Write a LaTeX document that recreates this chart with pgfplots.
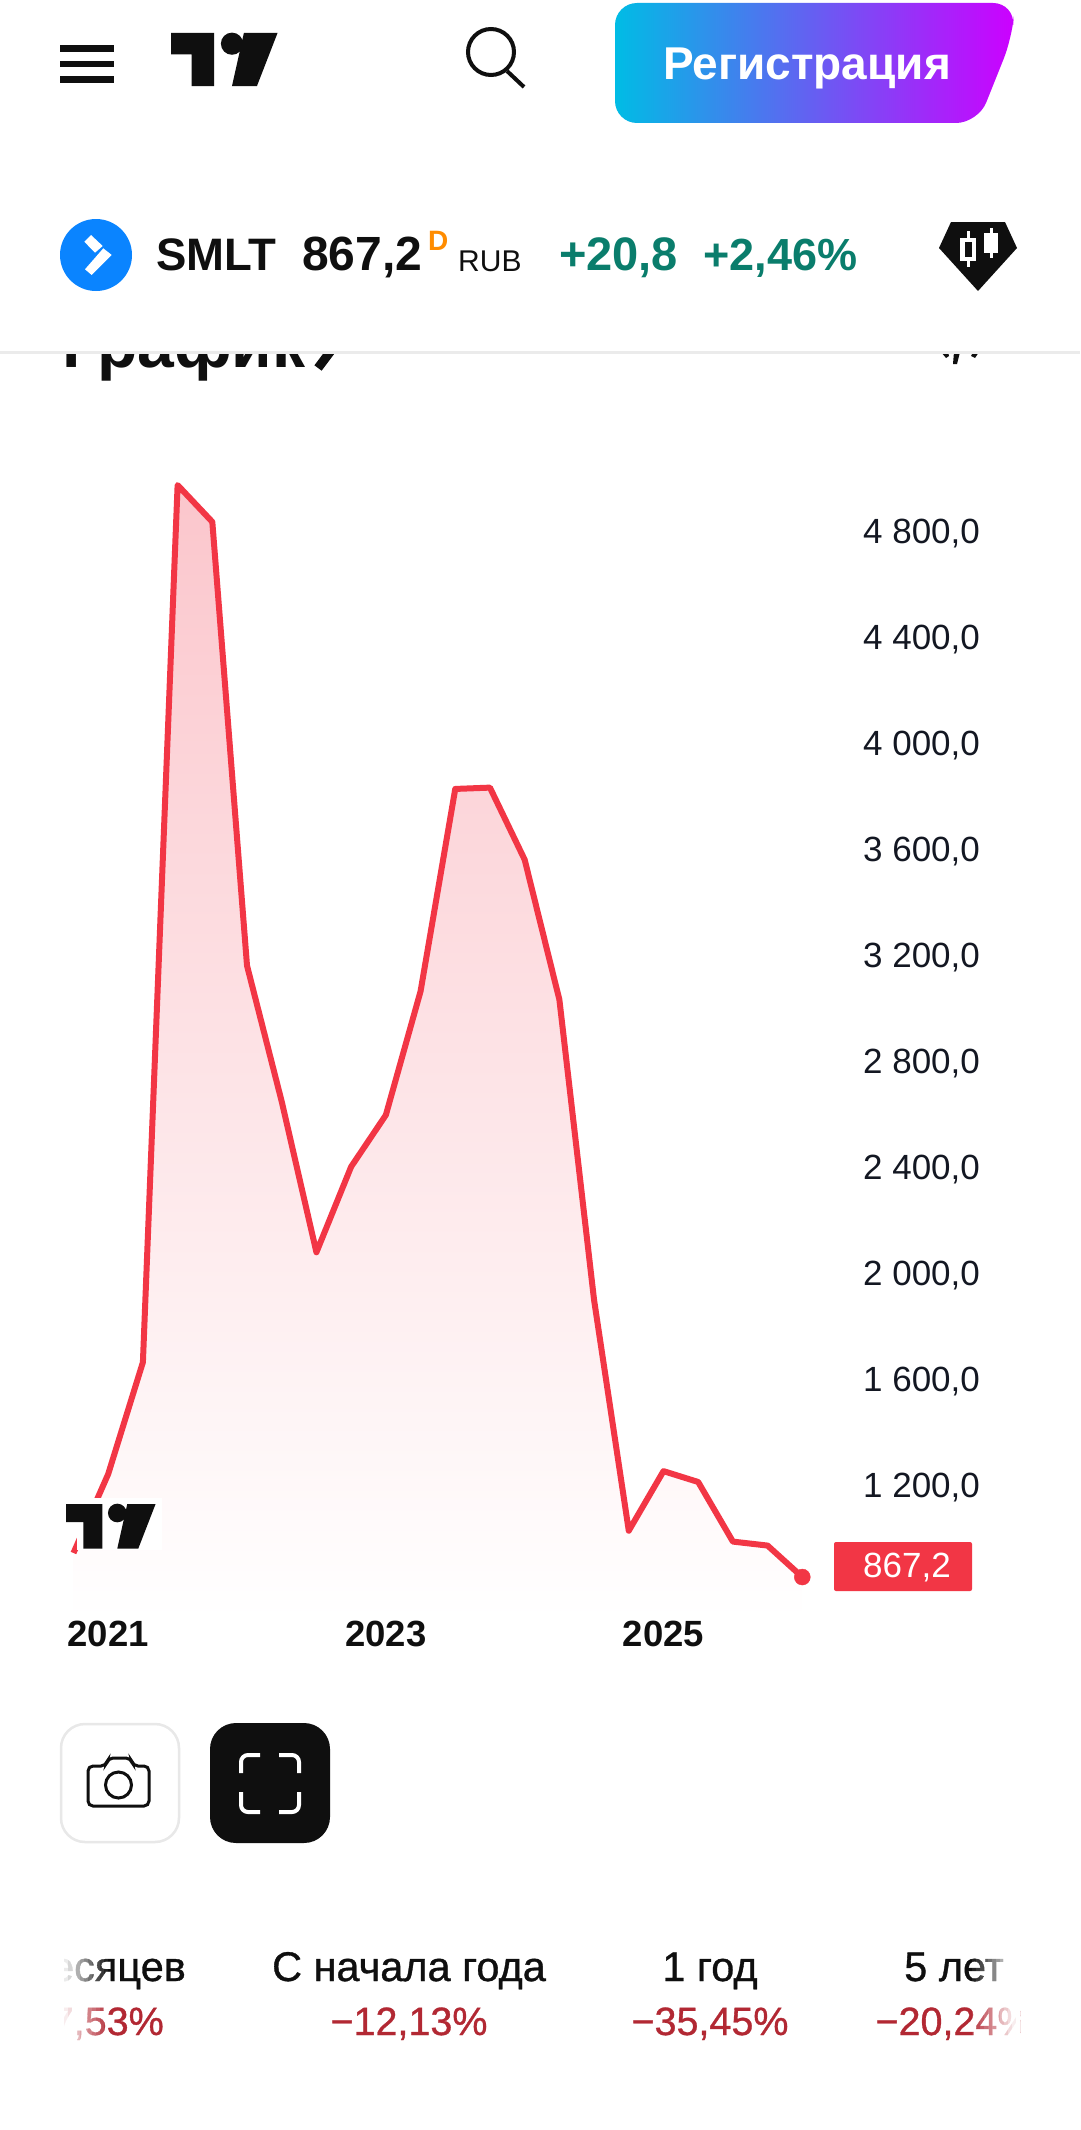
\documentclass[border=0pt]{standalone}
\usepackage{fontspec}
\setmainfont{Liberation Sans}
\newfontfamily\medium[FakeBold=0.8]{Liberation Sans}
\usepackage{pgfplots}
\pgfplotsset{compat=1.18}
\definecolor{ink}{HTML}{0F0F0F}
\definecolor{tick}{HTML}{131722}
\definecolor{upg}{HTML}{0A7D6C}
\definecolor{downr}{HTML}{B22833}
\definecolor{linered}{HTML}{F23645}
\definecolor{fillred}{HTML}{FBC6CC}
\definecolor{tvblue}{HTML}{0A84FF}
\definecolor{gradA}{HTML}{00BCE5}
\definecolor{gradB}{HTML}{1F5BFF}
\definecolor{gradC}{HTML}{CD00FF}
\newcommand{\fs}[1]{\fontsize{#1}{#1}\selectfont}
\pgfplotstableread{
x y
2020.75 958
2021.00 1256
2021.25 1678
2021.50 4989
2021.75 4850
2022.00 3175
2022.25 2662
2022.50 2093
2022.75 2416
2023.00 2611
2023.25 3078
2023.50 3842
2023.75 3847
2024.00 3575
2024.25 3047
2024.50 1913
2024.75 1042
2025.00 1267
2025.25 1226
2025.50 1001
2025.75 986
2026.00 867.2
}\pricedata
\newcommand{\tvlogo}[4]{% x y scale colour
  \begin{scope}[shift={(#1,#2)},x=#3pt,y=-#3pt]
    \fill[#4] (0,0) -- (109,0) -- (109,134) -- (52,134) -- (52,54) -- (0,54) -- cycle;
    \fill[#4] (154,27) circle (28);
    \fill[#4] (184,0) -- (269,0) -- (217,134) -- (154,134) -- cycle;
  \end{scope}}
\begin{document}
\begin{tikzpicture}[x=1pt,y=-1pt]
\path[use as bounding box,fill=white] (0,0) rectangle (1080,2130);

% the section title scrolled under the header
\node[anchor=base west,inner sep=0pt,text=ink] at (62,367) {\fs{66}\bfseries График};
\draw[ink,line width=9pt,line join=miter] (316,330) -- (333,348) -- (318,368);
\fill[ink] (941,352) -- (948,352) -- (949,356) -- (946,358) -- cycle;
\fill[ink] (954,352) -- (960,352) -- (957,364) -- (953,364) -- cycle;
\fill[ink] (973,352) -- (979,352) -- (975,358) -- (971,356) -- cycle;

% white header over it
\fill[white] (0,0) rectangle (1080,351);
\fill[black!8] (0,351) rectangle (1080,354);

% header
\fill[ink] (60,45) rectangle (114,52);
\fill[ink] (60,61) rectangle (114,67);
\fill[ink] (60,76) rectangle (114,83);
\tvlogo{171}{33}{0.396}{ink}
\draw[ink,line width=4pt] (491,52) circle (23);
\draw[ink,line width=4pt] (507,71) -- (524,87);
\shade[left color=gradA,middle color=gradB,right color=gradC,rounded corners=22pt]
  (615,3) -- (1015,3) -- (1012,38) -- (978,123) -- (615,123) -- cycle;
\node[text=white,inner sep=0pt] at (807,68) {\fs{46}\bfseries Регистрация};

% ticker row
\fill[tvblue] (96,255) circle (36);
\fill[white] (84.3,241.7) -- (91,235) -- (102.7,246) -- (95,252.7) -- cycle;
\fill[white] (103.3,248.3) -- (111.7,255) -- (91.7,275) -- (85,269.3) -- cycle;
\node[anchor=base west,inner sep=0pt,text=ink] at (156,270) {\fs{45.5}\bfseries SMLT};
\node[anchor=base west,inner sep=0pt,text=ink] at (302,270) {\fs{48}\bfseries 867,2};
\node[anchor=base west,inner sep=0pt,text=orange!90!yellow] at (428,250) {\fs{28}\bfseries D};
\node[anchor=base west,inner sep=0pt,text=ink] at (458,271) {\fs{30}RUB};
\node[anchor=base west,inner sep=0pt,text=upg] at (559,270) {\fs{47}\bfseries +20,8};
\node[anchor=base west,inner sep=0pt,text=upg] at (703,270) {\fs{45}\bfseries +2,46\%};
\fill[ink] (951,222) -- (1005,222) -- (1017,248) -- (978,291) -- (939,248) -- cycle;
\fill[white] (960,238) rectangle (976,261);
\fill[white] (966.5,231) rectangle (969.5,267);
\fill[ink] (965,242) rectangle (972,257);
\fill[white] (984,233) rectangle (998,253);
\fill[white] (989.5,228) rectangle (992.5,258);

% chart
\begin{axis}[
  at={(61pt,-1620pt)},anchor=south west,
  scale only axis,width=799.6pt,height=1180pt,
  xmin=2020.66,xmax=2026.42,ymin=705,ymax=5159,
  axis line style={draw=none},major tick length=0pt,
  clip=false,
  ytick={1200,1600,2000,2400,2800,3200,3600,4000,4400,4800},
  yticklabels={1 200{,}0,1 600{,}0,2 000{,}0,2 400{,}0,2 800{,}0,3 200{,}0,3 600{,}0,4 000{,}0,4 400{,}0,4 800{,}0},
  yticklabel pos=right,
  yticklabel style={anchor=east,inner sep=0pt,xshift=119.5pt,yshift=1.5pt,text=tick,font=\fs{35}},
  xtick={2021,2023,2025},
  xticklabels={2021,2023,2025},
  xticklabel style={anchor=center,inner sep=0pt,yshift=-14pt,text=ink,font=\fs{36.5}\bfseries},
]
\addplot[draw=none,forget plot,top color=fillred,bottom color=white] table[x=x,y=y]{\pricedata} \closedcycle;
\addplot[color=linered,line width=6pt,line join=round] table[x=x,y=y]{\pricedata};
\addplot[draw=none,mark=*,mark size=8pt,mark options={draw=linered,fill=linered}] coordinates {(2026.00,867.2)};
\end{axis}

% logo with its halo over the line
\fill[white] (66,1498) rectangle (162,1522);
\fill[white] (77,1522) rectangle (162,1550);
\tvlogo{66}{1504}{0.333}{ink}

% last price tag
\fill[linered,rounded corners=2pt] (834,1542) rectangle (972,1591);
\node[text=white,inner sep=0pt] at (907,1567) {\fs{35}867,2};

% buttons
\draw[black!9,line width=2.5pt,fill=white,rounded corners=24pt] (61,1724) rectangle (179,1842);
\draw[ink,line width=3pt,rounded corners=5pt] (88,1766) -- (106,1766) -- (108,1758) -- (131,1758) -- (133,1766) -- (149,1766) -- (149,1806) -- (88,1806) -- cycle;
\draw[ink,line width=3pt] (118.5,1785) circle (13);
\fill[ink,rounded corners=26pt] (210,1723) rectangle (330,1843);
\begin{scope}[white,line width=4pt,rounded corners=7pt]
\draw (241,1773) -- (241,1755) -- (260,1755);
\draw (279,1755) -- (299,1755) -- (299,1773);
\draw (241,1792) -- (241,1812) -- (260,1812);
\draw (279,1812) -- (299,1812) -- (299,1792);
\end{scope}

% period row
\begin{scope}
\clip (60,1930) rectangle (1020,2060);
\node[anchor=base east,inner sep=0pt,text=ink] at (186,1981) {\fs{41.5}\medium 6 месяцев};
\node[anchor=base east,inner sep=0pt,text=downr] at (164,2035) {\fs{39.5}\medium −17,53\%};
\node[anchor=base,inner sep=0pt,text=ink] at (409,1981) {\fs{41.5}\medium С начала года};
\node[anchor=base,inner sep=0pt,text=downr] at (409,2035) {\fs{39.5}\medium −12,13\%};
\node[anchor=base,inner sep=0pt,text=ink] at (710,1981) {\fs{41.5}\medium 1 год};
\node[anchor=base,inner sep=0pt,text=downr] at (710,2035) {\fs{39.5}\medium −35,45\%};
\node[anchor=base,inner sep=0pt,text=ink] at (954,1981) {\fs{41.5}\medium 5 лет};
\node[anchor=base,inner sep=0pt,text=downr] at (954,2035) {\fs{39.5}\medium −20,24\%};
\end{scope}
\foreach \i in {0,...,11}{
  \pgfmathsetmacro{\op}{1-\i/12}
  \pgfmathsetmacro{\xa}{60+\i*4}
  \pgfmathsetmacro{\xb}{1020-\i*4}
  \fill[white,opacity=\op] (\xa,1930) rectangle ({\xa+4},2060);
  \fill[white,opacity=\op] (\xb,1930) rectangle ({\xb-4},2060);
}
\end{tikzpicture}
\end{document}
